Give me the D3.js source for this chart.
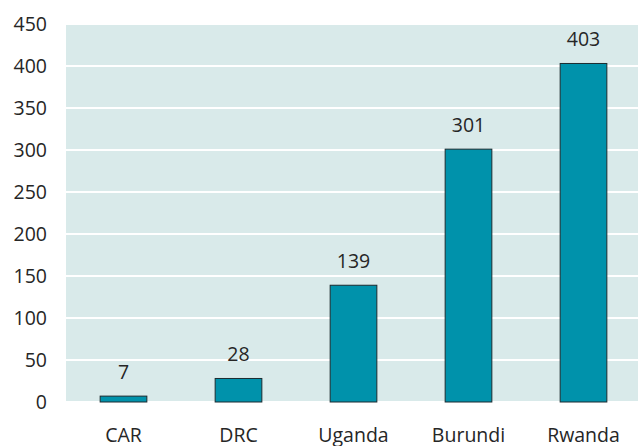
<!DOCTYPE html>
<html><head><meta charset="utf-8">
<script src="https://cdn.jsdelivr.net/npm/d3@7"></script>
<style>html,body{margin:0;padding:0;background:#fff;}svg{display:block;}</style>
</head><body>
<svg id="c" width="638" height="446"></svg>
<script>
const categories = ["CAR", "DRC", "Uganda", "Burundi", "Rwanda"];
const values = [7, 28, 139, 301, 403];
const yTicks = [0, 50, 100, 150, 200, 250, 300, 350, 400, 450];

const svg = d3.select("#c");
const font = "'Open Sans', 'Noto Sans', sans-serif";
const fs = 19.5;
const left = 66, right = 638, bandRight = 641;
const y = d3.scaleLinear().domain([0, 450]).range([402, 24]);
const x = d3.scaleBand().domain(categories).range([left, bandRight]).paddingInner(0.594).paddingOuter(0.297);

svg.append("rect").attr("x", left).attr("y", y(450) + 1).attr("width", right - left)
  .attr("height", 401 - (y(450) + 1)).attr("fill", "#d9eaea");

svg.append("g").selectAll("line").data(yTicks.filter(d => d > 0)).join("line")
  .attr("x1", left).attr("x2", right).attr("y1", d => y(d)).attr("y2", d => y(d))
  .attr("stroke", "#fff").attr("stroke-width", 2);

const yAxis = d3.axisLeft(y).tickValues(yTicks).tickSize(0).tickPadding(0);
const ga = svg.append("g").attr("transform", "translate(47,0)").call(yAxis);
ga.select(".domain").remove();
ga.selectAll("text").attr("font-family", font).attr("font-size", fs).attr("fill", "#262626").attr("dy", "0.35em");

svg.append("g").selectAll("rect").data(values).join("rect")
  .attr("x", (d, i) => x(categories[i]))
  .attr("y", d => y(d))
  .attr("width", x.bandwidth())
  .attr("height", d => y(0) - y(d))
  .attr("fill", "#0092ab").attr("stroke", "#1c2b30").attr("stroke-width", 1);

svg.append("g").selectAll("text").data(values).join("text")
  .attr("x", (d, i) => x(categories[i]) + x.bandwidth() / 2)
  .attr("y", d => y(d) - 17)
  .attr("text-anchor", "middle").attr("font-family", font).attr("font-size", fs).attr("fill", "#262626")
  .text(d => d);

const xAxis = d3.axisBottom(x).tickSize(0).tickPadding(0);
const gx = svg.append("g").attr("transform", "translate(0,442)").call(xAxis);
gx.select(".domain").remove();
gx.selectAll("text").attr("font-family", font).attr("font-size", fs).attr("fill", "#262626").attr("dy", "0");
</script>
</body></html>
